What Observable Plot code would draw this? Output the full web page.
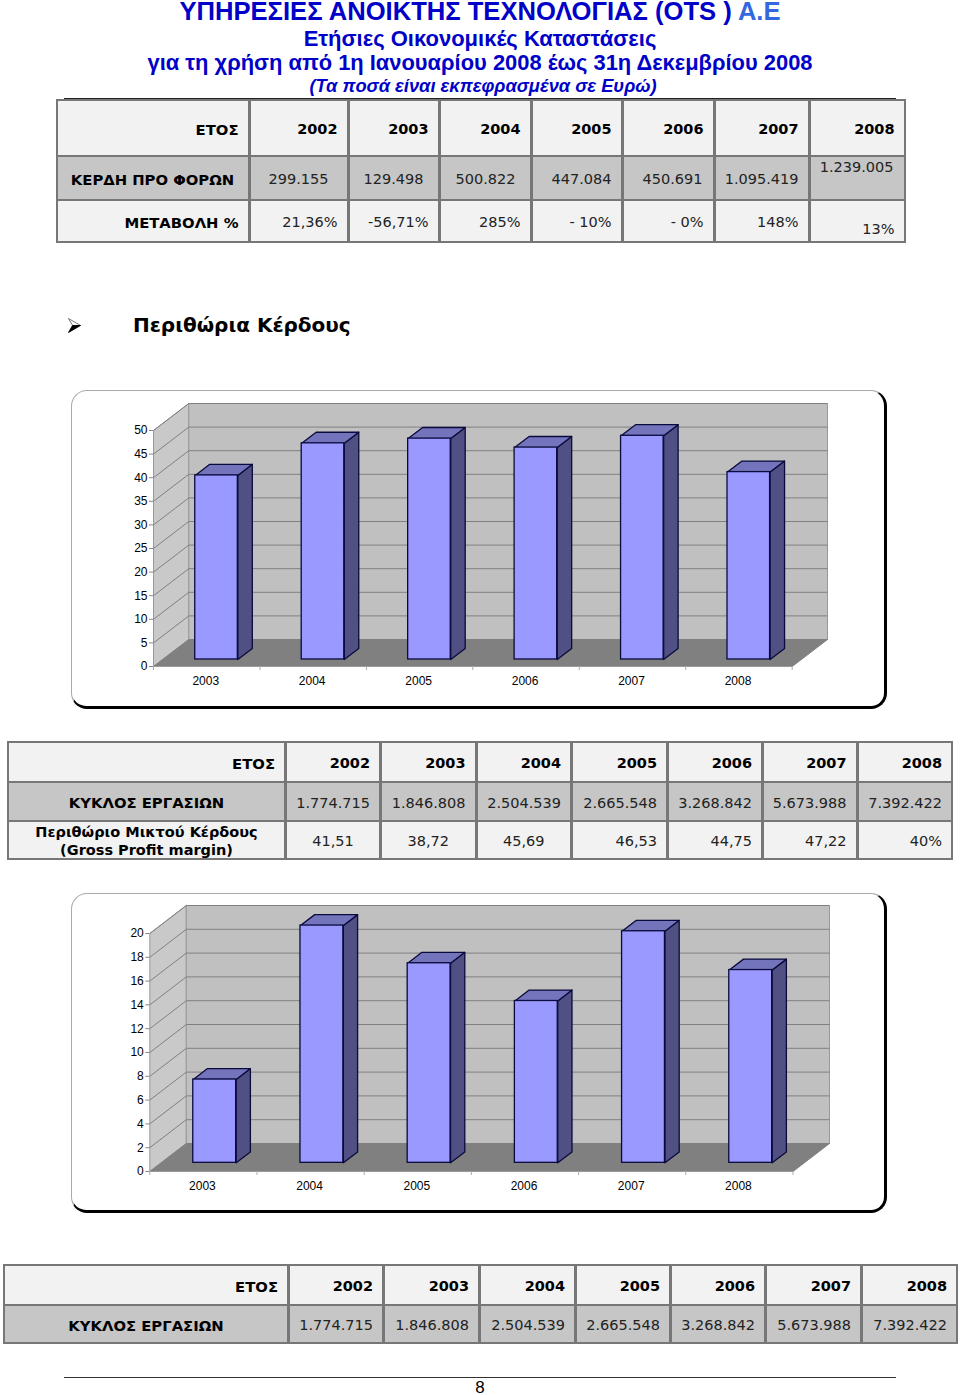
<!DOCTYPE html>
<html lang="el">
<head>
<meta charset="utf-8">
<title>Περιθώρια Κέρδους</title>
<script src="https://cdn.jsdelivr.net/npm/d3@7"></script>
<script src="https://cdn.jsdelivr.net/npm/@observablehq/plot@0.6"></script>
<style>
  html, body { margin: 0; padding: 0; background: #fff; }
  #page { position: relative; width: 960px; height: 1395px; overflow: hidden; font-family: "DejaVu Sans", sans-serif; color: #000; }
  .head { position: absolute; left: 0; width: 960px; text-align: center; font-family: "Liberation Sans", Arial, sans-serif; color: #0000c8; white-space: nowrap; font-weight: bold; }
  .tbl { position: absolute; display: grid; background: #777; column-gap: 3px; row-gap: 2px; padding: 2px; box-sizing: border-box; }
  .c { display: flex; align-items: center; justify-content: flex-end; padding: 2px 9px 0; box-sizing: border-box; font-size: 14.5px; background: #f2f2f2; white-space: nowrap; color: #222; }
  .c.g { background: #c6c6c6; }
  .c.b { font-weight: bold; color: #000; }
  .c.l { font-size: 14.8px; }
  .c.ctr { justify-content: center; text-align: center; }
  .panel { position: absolute; left: 71px; width: 816px; box-sizing: border-box; background: #fff; border: 1px solid #aaa; border-right: 3px solid #000; border-bottom: 3px solid #000; border-radius: 16px; }
  .plot { position: absolute; left: 0; }
  .plot svg { display: block; overflow: visible; }
</style>
</head>
<body>
<div id="page"></div>
<script>
// ---- data ----
const chartYears = ["2003", "2004", "2005", "2006", "2007", "2008"];
const firstSeries = [39.0, 45.8, 46.8, 44.9, 47.4, 39.7];
const secondSeries = [7.0, 19.94, 16.77, 13.6, 19.46, 16.2];
const ticksFirst = [0, 5, 10, 15, 20, 25, 30, 35, 40, 45, 50];
const ticksSecond = [0, 2, 4, 6, 8, 10, 12, 14, 16, 18, 20];

const tableYears = ["2002", "2003", "2004", "2005", "2006", "2007", "2008"];
const profitBeforeTax = ["299.155", "129.498", "500.822", "447.084", "450.691", "1.095.419", "1.239.005"];
const profitChange = ["21,36%", "-56,71%", "285%", "- 10%", "- 0%", "148%", "13%"];
const turnover = ["1.774.715", "1.846.808", "2.504.539", "2.665.548", "3.268.842", "5.673.988", "7.392.422"];
const grossMarginText = ["41,51", "38,72", "45,69", "46,53", "44,75", "47,22", "40%"];

const page = document.getElementById("page");
function add(parent, tag, cls, css, text) {
  const e = document.createElement(tag);
  if (cls) e.className = cls;
  if (css) e.style.cssText = css;
  if (text !== undefined) e.textContent = text;
  parent.appendChild(e);
  return e;
}

// ---- headings ----
const h1 = add(page, "div", "head", "top:-1px;font-size:25.6px;line-height:24px;");
h1.append("ΥΠΗΡΕΣΙΕΣ ΑΝΟΙΚΤΗΣ ΤΕΧΝΟΛΟΓΙΑΣ (OTS ) ");
add(h1, "span", "", "color:#3468e0", "Α.Ε");
add(page, "div", "head", "top:25px;font-size:22px;line-height:28px;", "Ετήσιες Οικονομικές Καταστάσεις");
add(page, "div", "head", "top:49px;font-size:21.9px;line-height:28px;", "για τη χρήση από 1η Ιανουαρίου 2008 έως 31η Δεκεμβρίου 2008");
add(page, "div", "head", "top:74px;left:3px;font-size:18.3px;line-height:24px;font-style:italic;", "(Τα ποσά είναι εκπεφρασμένα σε Ευρώ)");

// ---- tables ----
function table(left, top, cols, rows, cells) {
  const t = add(page, "div", "tbl", `left:${left}px;top:${top}px;grid-template-columns:${cols.map(d => d + "px").join(" ")};grid-template-rows:${rows.map(d => d + "px").join(" ")};`);
  for (const c of cells) {
    const e = add(t, "div", "c " + (c.cls || ""), c.css || "");
    e.innerHTML = c.html;
  }
}
const row = (values, cls) => values.map(v => ({ html: v, cls }));
const profitPad = [18, 14, 14, 9, 10, 9, 10];

add(page, "div", "", "position:absolute;left:64px;top:98px;width:832px;height:2px;background:#222;");
table(55.5, 99, [190, 96, 88, 89, 88, 89, 92, 93], [54, 42, 40], [
  { html: "ΕΤΟΣ", cls: "b l" }, ...row(tableYears, "b"),
  { html: "ΚΕΡΔΗ ΠΡΟ ΦΟΡΩΝ", cls: "b g ctr l" },
  ...profitBeforeTax.map((v, i) => ({ html: v, cls: "g", css: `padding-right:${profitPad[i]}px;` + (i === 6 ? "align-items:flex-start;" : "") })),
  { html: "ΜΕΤΑΒΟΛΗ %", cls: "b l" },
  ...profitChange.map((v, i) => ({ html: v, css: i === 6 ? "align-items:flex-end;padding-bottom:4px;" : "" }))
]);

page.insertAdjacentHTML("beforeend", `<svg style="position:absolute;left:67px;top:317px" width="15" height="17" viewBox="0 0 15 17" aria-hidden="true">
  <path d="M1.5 1.5 L13.5 8.5 L5.5 8.5 Z" fill="#fff" stroke="#666" stroke-width="0.9"/>
  <path d="M1.5 15.5 L13.5 8.5 L5.5 8.5 Z" fill="#000" stroke="#000" stroke-width="0.9"/></svg>`);
add(page, "div", "", "position:absolute;left:133px;top:311px;font-size:20px;line-height:28px;font-weight:bold;white-space:nowrap;", "Περιθώρια Κέρδους");

table(7, 741, [275, 92, 92.5, 92.5, 93, 92, 91.5, 92.5], [38, 37, 36], [
  { html: "ΕΤΟΣ", cls: "b l" }, ...row(tableYears, "b"),
  { html: "ΚΥΚΛΟΣ ΕΡΓΑΣΙΩΝ", cls: "b g ctr l" }, ...row(turnover, "g"),
  { html: "Περιθώριο Μικτού Κέρδους<br>(Gross Profit margin)", cls: "b ctr", css: "line-height:18px;" },
  ...grossMarginText.map((v, i) => ({ html: v, cls: i < 3 ? "ctr" : "" }))
]);

table(3, 1264, [282, 92, 93, 93, 92, 92, 93, 93], [38, 36], [
  { html: "ΕΤΟΣ", cls: "b l" }, ...row(tableYears, "b"),
  { html: "ΚΥΚΛΟΣ ΕΡΓΑΣΙΩΝ", cls: "b g ctr l" }, ...row(turnover, "g")
]);

add(page, "div", "", "position:absolute;left:64px;top:1377px;width:832px;height:1px;background:#333;");
add(page, "div", "", "position:absolute;left:471px;width:18px;text-align:center;top:1380px;font-family:'Liberation Sans',sans-serif;font-size:17px;line-height:15px;", "8");

// ---- 3-D column charts, drawn in data space with an oblique depth axis ----
function chart3d({ values, ticks, maxV, panelTop, panelH, frontLeft, frontRight, backTop, frontZero, depthX, depthV, barD0, barD1, barS }) {
  const n = values.length;
  const barE = barS + 0.4;                              // share of a category slot
  const pr = (s, v, d) => ({ x: s + d * depthX, y: v + d * depthV });
  const poly = (id, pts) => [...pts, pts[0]].map(p => ({ id, ...p }));

  const side = poly("side", [pr(0, 0, 0), pr(0, maxV, 0), pr(0, maxV, 1), pr(0, 0, 1)]);
  const back = poly("back", [pr(0, 0, 1), pr(0, maxV, 1), pr(n, maxV, 1), pr(n, 0, 1)]);
  const floor = poly("floor", [pr(0, 0, 0), pr(0, 0, 1), pr(n, 0, 1), pr(n, 0, 0)]);

  const rows = values.map((v, i) => ({ i, v }));
  const barTop = rows.flatMap(({ i, v }) => poly("t" + i, [
    pr(i + barS, v, barD0), pr(i + barE, v, barD0), pr(i + barE, v, barD1), pr(i + barS, v, barD1)]));
  const barSide = rows.flatMap(({ i, v }) => poly("s" + i, [
    pr(i + barE, 0, barD0), pr(i + barE, v, barD0), pr(i + barE, v, barD1), pr(i + barE, 0, barD1)]));

  const ink = "#0a0a3c";
  const slots = d3.range(n + 1);
  const centers = d3.range(n).map(i => i + 0.5);
  add(page, "div", "panel", `top:${panelTop}px;height:${panelH}px;`);
  const holder = add(page, "div", "plot", `top:${panelTop}px;`);

  const plot = Plot.plot({
    width: 960,
    height: panelH,
    marginLeft: frontLeft,
    marginRight: 960 - (frontRight + (frontRight - frontLeft) / n * depthX),
    marginTop: backTop - panelTop,
    marginBottom: panelTop + panelH - frontZero,
    style: { background: "transparent", fontFamily: "'Liberation Sans', Arial, sans-serif", fontSize: "12px", color: "#000" },
    x: { domain: [0, n + depthX], axis: null },
    y: { domain: [0, maxV + depthV], axis: null },
    marks: [
      Plot.line(side, { x: "x", y: "y", z: "id", fill: "#c9c9c9", stroke: "#999", strokeWidth: 1 }),
      Plot.line(back, { x: "x", y: "y", z: "id", fill: "#c0c0c0", stroke: "#999", strokeWidth: 1 }),
      Plot.line(floor, { x: "x", y: "y", z: "id", fill: "#808080", stroke: "#808080", strokeWidth: 1 }),
      Plot.link(ticks.slice(1), {
        x1: () => pr(0, 0, 0).x, x2: () => pr(0, 0, 1).x,
        y1: t => pr(0, t, 0).y, y2: t => pr(0, t, 1).y,
        stroke: "#808080", strokeWidth: 1
      }),
      Plot.link(ticks.slice(1), {
        x1: () => pr(0, 0, 1).x, x2: () => pr(n, 0, 1).x,
        y1: t => pr(0, t, 1).y, y2: t => pr(n, t, 1).y,
        stroke: "#808080", strokeWidth: 1
      }),
      Plot.line(barSide, { x: "x", y: "y", z: "id", fill: "#505084", stroke: ink, strokeWidth: 1.3, strokeLinejoin: "round" }),
      Plot.line(barTop, { x: "x", y: "y", z: "id", fill: "#7474bc", stroke: ink, strokeWidth: 1.3, strokeLinejoin: "round" }),
      Plot.rect(rows, {
        x1: d => pr(d.i + barS, 0, barD0).x, x2: d => pr(d.i + barE, 0, barD0).x,
        y1: d => pr(0, 0, barD0).y, y2: d => pr(0, d.v, barD0).y,
        fill: "#9999ff", stroke: ink, strokeWidth: 1.3
      }),
      Plot.ruleY([0], { x1: 0, x2: n, stroke: "#999", strokeWidth: 1 }),
      Plot.axisY({ ticks, label: null, tickSize: 4, tickPadding: 2, stroke: "#888", fill: "#000", fontSize: 12, tickFormat: d => String(d) }),
      Plot.axisX({ ticks: slots, label: null, tickSize: 4, stroke: "#aaa", tickFormat: () => "" }),
      Plot.axisX({ ticks: centers, label: null, tickSize: 0, tickPadding: 10, dx: -1, fill: "#000", fontSize: 12, tickFormat: d => chartYears[Math.floor(d)] })
    ]
  });
  holder.appendChild(plot);
}

chart3d({
  values: firstSeries, ticks: ticksFirst, maxV: 50,
  panelTop: 390, panelH: 319, frontLeft: 153, frontRight: 791.7,
  backTop: 403, frontZero: 666,
  depthX: 35.3 / 106.45, depthV: 27 / 4.72, barD0: 0.26, barD1: 0.67, barS: 0.306
});
chart3d({
  values: secondSeries, ticks: ticksSecond, maxV: 20,
  panelTop: 893, panelH: 320, frontLeft: 149.3, frontRight: 792.5,
  backTop: 905, frontZero: 1171,
  depthX: 36.5 / 107.2, depthV: 28 / 11.9, barD0: 0.31, barD1: 0.70, barS: 0.3
});
</script>
</body>
</html>
